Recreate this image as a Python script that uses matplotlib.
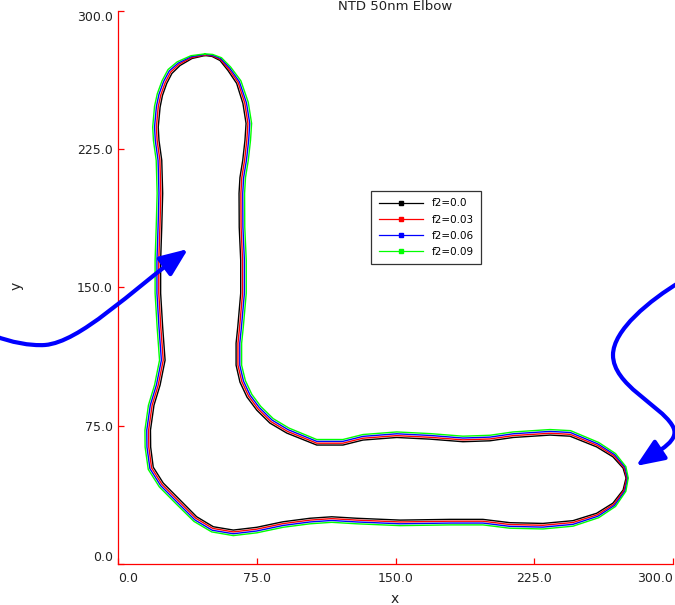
import matplotlib
matplotlib.use('Agg')
import matplotlib.pyplot as plt
from matplotlib.lines import Line2D
from matplotlib.patches import FancyArrowPatch
from matplotlib.path import Path

# outline of the elbow for each f2 value (x, y in nm)
black_x = [46.9, 39.9, 33.4, 29.0, 26.2, 23.9, 22.6, 21.6, 22.0, 23.5, 24.0, 23.5, 22.9, 22.9, 24.0, 25.3,
           22.6, 19.3, 17.4, 17.5, 18.9, 24.3, 33.4, 42.4, 51.4, 62.2, 74.9, 89.1, 103.7, 115.4, 128.9, 152.4,
           179.4, 197.2, 211.8, 229.7, 245.9, 258.7, 267.5, 273.0, 274.6, 273.0, 267.5, 258.7, 244.3, 233.5,
           213.5, 201.0, 186.4, 168.6, 150.6, 132.3, 121.5, 107.3, 91.1, 82.0, 74.9, 69.6, 65.8, 63.7, 63.7,
           64.6, 65.4, 66.2, 66.2, 65.4, 65.3, 65.8, 67.3, 68.5, 69.1, 67.4, 64.0, 59.3, 55.0, 50.7]
black_y = [275.7, 274.1, 270.3, 266.0, 260.6, 254.1, 247.7, 236.9, 229.7, 218.9, 201.0, 182.6, 164.7, 146.8,
           128.4, 110.5, 97.0, 86.1, 72.6, 63.4, 52.5, 43.9, 34.7, 25.6, 20.2, 18.4, 19.9, 22.9, 24.8, 25.6,
           24.8, 23.8, 24.2, 24.2, 22.4, 22.0, 23.5, 27.5, 33.0, 40.1, 46.6, 52.0, 58.1, 63.5, 69.3, 69.9, 68.6,
           66.8, 66.3, 67.7, 68.6, 67.2, 64.5, 64.5, 71.0, 76.4, 83.4, 90.5, 98.6, 107.8, 119.7, 128.4, 137.6,
           146.8, 164.7, 182.6, 201.0, 209.6, 218.9, 229.7, 238.9, 249.7, 260.6, 267.6, 273.0, 275.2]

red_x = [46.9, 39.7, 32.9, 28.3, 25.4, 23.0, 21.6, 20.6, 21.0, 22.5, 23.0, 22.5, 21.9, 21.9, 23.0, 24.3,
         21.6, 18.3, 16.4, 16.5, 18.0, 23.6, 32.7, 41.9, 51.1, 62.2, 74.9, 89.1, 103.7, 115.4, 128.9, 152.4,
         179.4, 197.2, 211.8, 229.7, 245.9, 259.1, 268.0, 273.5, 275.0, 273.5, 268.0, 259.1, 244.4, 233.5,
         213.5, 201.0, 186.4, 168.6, 150.6, 132.3, 121.5, 107.3, 91.5, 82.6, 75.6, 70.5, 66.8, 64.7, 64.7,
         65.6, 66.4, 67.2, 67.2, 66.4, 66.3, 66.8, 68.3, 69.5, 70.1, 68.4, 64.8, 59.8, 55.3, 50.8]
red_y = [276.0, 274.6, 271.0, 266.7, 261.1, 254.4, 247.9, 236.9, 229.7, 218.9, 201.0, 182.6, 164.7, 146.8,
         128.4, 110.5, 97.0, 86.1, 72.6, 63.4, 52.1, 43.2, 34.0, 24.8, 19.3, 17.4, 18.9, 21.9, 23.8, 24.6,
         23.8, 22.8, 23.2, 23.2, 21.4, 21.0, 22.5, 26.7, 32.4, 39.9, 46.6, 52.3, 58.7, 64.3, 70.3, 70.9, 69.6,
         67.8, 67.3, 68.7, 69.6, 68.2, 65.5, 65.5, 71.9, 77.2, 84.1, 91.0, 98.9, 107.8, 119.7, 128.4, 137.6,
         146.8, 164.7, 182.6, 201.0, 209.6, 218.9, 229.7, 238.9, 249.9, 261.1, 268.2, 273.5, 275.6]

blue_x = [46.9, 39.5, 32.4, 27.6, 24.5, 22.0, 20.6, 19.6, 20.0, 21.5, 22.0, 21.5, 20.9, 20.9, 22.0, 23.3,
          20.6, 17.3, 15.4, 15.5, 17.1, 22.9, 32.0, 41.4, 50.8, 62.2, 74.9, 89.1, 103.7, 115.4, 128.9, 152.4,
          179.4, 197.2, 211.8, 229.7, 245.9, 259.4, 268.4, 274.0, 275.4, 274.0, 268.4, 259.4, 244.5, 233.5,
          213.5, 201.0, 186.4, 168.6, 150.6, 132.3, 121.5, 107.3, 91.9, 83.2, 76.3, 71.3, 67.7, 65.7, 65.7,
          66.6, 67.4, 68.2, 68.2, 67.4, 67.3, 67.8, 69.3, 70.5, 71.1, 69.3, 65.5, 60.3, 55.5, 50.9]
blue_y = [276.3, 275.1, 271.6, 267.4, 261.6, 254.7, 248.0, 236.9, 229.7, 218.9, 201.0, 182.6, 164.7, 146.8,
          128.4, 110.5, 97.0, 86.1, 72.6, 63.4, 51.7, 42.5, 33.3, 23.9, 18.3, 16.4, 17.9, 20.9, 22.8, 23.6,
          22.8, 21.8, 22.2, 22.2, 20.4, 20.0, 21.5, 25.9, 31.8, 39.6, 46.6, 52.5, 59.3, 65.1, 71.3, 71.9, 70.6,
          68.8, 68.3, 69.7, 70.6, 69.2, 66.5, 66.5, 72.8, 78.0, 84.8, 91.5, 99.2, 107.8, 119.7, 128.4, 137.6,
          146.8, 164.7, 182.6, 201.0, 209.6, 218.9, 229.7, 238.9, 250.1, 261.5, 268.8, 274.0, 275.9]

green_x = [46.9, 39.3, 31.9, 26.9, 23.7, 21.1, 19.6, 18.6, 19.0, 20.5, 21.0, 20.5, 19.9, 19.9, 21.0, 22.3,
           19.6, 16.3, 14.4, 14.5, 16.2, 22.2, 31.3, 40.9, 50.5, 62.2, 74.9, 89.1, 103.7, 115.4, 128.9, 152.4,
           179.4, 197.2, 211.8, 229.7, 245.9, 259.8, 268.9, 274.5, 275.8, 274.5, 268.9, 259.8, 244.6, 233.5,
           213.5, 201.0, 186.4, 168.6, 150.6, 132.3, 121.5, 107.3, 92.3, 83.8, 77.0, 72.2, 68.7, 66.7, 66.7,
           67.6, 68.4, 69.2, 69.2, 68.4, 68.3, 68.8, 70.3, 71.5, 72.1, 70.3, 66.3, 60.8, 55.8, 51.0]
green_y = [276.6, 275.6, 272.3, 268.1, 262.1, 255.0, 248.2, 236.9, 229.7, 218.9, 201.0, 182.6, 164.7, 146.8,
           128.4, 110.5, 97.0, 86.1, 72.6, 63.4, 51.3, 41.8, 32.6, 23.1, 17.4, 15.4, 16.9, 19.9, 21.8, 22.6,
           21.8, 20.8, 21.2, 21.2, 19.4, 19.0, 20.5, 25.1, 31.2, 39.4, 46.6, 52.8, 59.9, 65.9, 72.3, 72.9, 71.6,
           69.8, 69.3, 70.7, 71.6, 70.2, 67.5, 67.5, 73.7, 78.8, 85.5, 92.0, 99.5, 107.8, 119.7, 128.4, 137.6,
           146.8, 164.7, 182.6, 201.0, 209.6, 218.9, 229.7, 238.9, 250.3, 262.0, 269.4, 274.5, 276.3]

labels = ['f2=0.0', 'f2=0.03', 'f2=0.06', 'f2=0.09']
colors = ['black', '#ff0000', '#0000ff', '#00ff00']
ticks = [0.0, 75.0, 150.0, 225.0, 300.0]

W, H = 675, 605

def fig_xy(px, py):
    # pixel position (from top left) -> figure fraction
    return (px / W, 1 - py / H)

fig = plt.figure(figsize=(W / 100, H / 100), dpi=100)
ax = fig.add_axes([118.3 / W, 41 / H, 554.7 / W, 553.3 / H])

series = [(black_x, black_y), (red_x, red_y), (blue_x, blue_y), (green_x, green_y)]
for (xs, ys), c in zip(series, colors):
    ax.plot(xs + xs[:1], ys + ys[:1], color=c, lw=1.0)

ax.set_xlim(0, 300)
ax.set_ylim(0, 300)
ax.set_xticks(ticks)
ax.set_yticks(ticks)
ax.set_xticklabels(['%.1f' % t for t in ticks])
ax.set_yticklabels(['%.1f' % t for t in ticks])
for s in ['top', 'right']:
    ax.spines[s].set_visible(False)
for s in ['left', 'bottom']:
    ax.spines[s].set_color('#ff0000')
    ax.spines[s].set_linewidth(0.9)
ax.tick_params(direction='in', length=4, width=0.9, color='#ff0000',
               labelcolor='#222222', labelsize=9)
ax.tick_params(axis='x', pad=6)
ax.tick_params(axis='y', pad=4)
xl = ax.get_xticklabels()
xl[0].set_ha('left')
xl[-1].set_ha('right')
yl = ax.get_yticklabels()
yl[0].set_va('bottom')
yl[-1].set_va('top')

# title sits at the very top edge, as in the original screenshot
fig.text(*fig_xy(395, 10), 'NTD 50nm Elbow', ha='center', va='baseline', fontsize=9.5, color='#222222')
fig.text(*fig_xy(395, 603), 'x', ha='center', va='baseline', fontsize=10, color='#222222')
fig.text(*fig_xy(17, 286), 'y', ha='center', va='center', rotation=90, fontsize=10, color='#222222')

handles = [Line2D([], [], color=c, lw=0.9, marker='s', markersize=3.5) for c in colors]
leg = ax.legend(handles, labels, loc='upper left', bbox_to_anchor=(0.456, 0.674), borderaxespad=0,
                fontsize=7.5, handlelength=4.3, handletextpad=0.8, labelspacing=0.6,
                fancybox=False, framealpha=1, edgecolor='#333333', borderpad=0.7)
leg.get_frame().set_linewidth(0.9)

# blue annotation arrows
arrow1 = [(-5, 336), (10, 342), (30, 346), (45, 345),
          (80, 342), (130, 292), (188, 249)]
arrow2 = [(680, 282), (650, 300), (613, 330), (613, 355),
          (613, 385), (660, 405), (672, 425),
          (682, 440), (660, 450), (636, 466)]
codes1 = [Path.MOVETO] + [Path.CURVE4] * 6
codes2 = [Path.MOVETO] + [Path.CURVE4] * 9
for pts, codes in [(arrow1, codes1), (arrow2, codes2)]:
    p = Path([fig_xy(*q) for q in pts], codes)
    arr = FancyArrowPatch(path=p, arrowstyle='-|>,head_length=0.85,head_width=0.35',
                          mutation_scale=20, lw=3, color='#0000ff',
                          transform=fig.transFigure, joinstyle='round', capstyle='round')
    fig.patches.append(arr)

fig.savefig('out.png', dpi=100)
